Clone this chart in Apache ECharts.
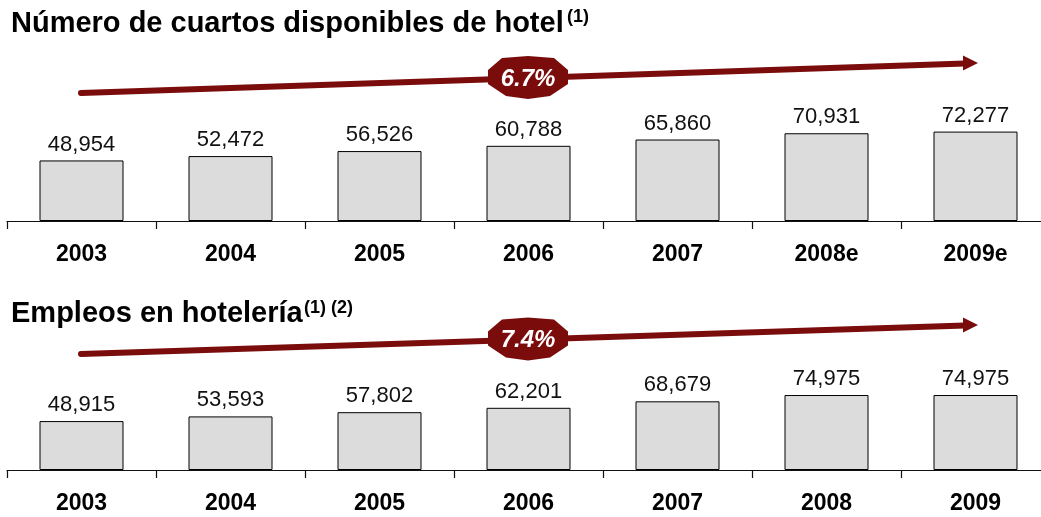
<!DOCTYPE html>
<html>
<head>
<meta charset="utf-8">
<script src="https://cdn.jsdelivr.net/npm/echarts@6/dist/echarts.min.js"></script>
<style>
  html, body { margin: 0; padding: 0; background: #fff; }
  #chart { width: 1041px; height: 517px; }
</style>
</head>
<body>
<div id="chart"></div>
<script>
// datos
const roomYears = ['2003', '2004', '2005', '2006', '2007', '2008e', '2009e'];
const roomValues = [48954, 52472, 56526, 60788, 65860, 70931, 72277];
const jobYears = ['2003', '2004', '2005', '2006', '2007', '2008', '2009'];
const jobValues = [48915, 53593, 57802, 62201, 68679, 74975, 74975];

const FONT = '"Liberation Sans", Arial, sans-serif';
const RED = '#7a0c0c';

// tasa de crecimiento anual compuesta
function cagr(values) {
    let n = values.length - 1;
    let r = Math.pow(values[n] / values[0], 1 / n) - 1;
    return (r * 100).toFixed(1) + '%';
}

function fmt(v) {
    return v.toLocaleString('en-US');
}

function xAxisFor(idx, years) {
    return {
        type: 'category',
        gridIndex: idx,
        data: years,
        boundaryGap: true,
        axisLine: { lineStyle: { color: '#111', width: 1.2 } },
        axisTick: { show: true, length: 8, lineStyle: { color: '#111', width: 1.2 } },
        axisLabel: {
            margin: 22,
            fontFamily: FONT,
            fontWeight: 'bold',
            fontSize: 23,
            color: '#000'
        }
    };
}

function yAxisFor(idx, max) {
    return {
        type: 'value',
        gridIndex: idx,
        min: 0,
        max: max,
        show: false,
        splitLine: { show: false }
    };
}

function barSeries(idx, values) {
    return {
        type: 'bar',
        xAxisIndex: idx,
        yAxisIndex: idx,
        data: values,
        barWidth: 84,
        itemStyle: { color: '#dcdcdc', borderColor: '#000', borderWidth: 1 },
        label: {
            show: true,
            position: 'top',
            distance: 5,
            fontFamily: FONT,
            fontSize: 22,
            color: '#111',
            formatter: function (p) { return fmt(p.value); }
        },
        emphasis: { disabled: true },
        animation: false
    };
}

// flecha de crecimiento con la etiqueta
function arrow(x1, y1, x2, y2, text) {
    let cx = 528, cy = y1 + (y2 - y1) * (cx - x1) / (x2 - x1);
    return [
        {
            type: 'line',
            shape: { x1: x1, y1: y1, x2: x2 - 13, y2: y2 + 0.5 },
            style: { stroke: RED, lineWidth: 6, lineCap: 'round' }
        },
        {
            type: 'polygon',
            shape: { points: [[x2, y2], [x2 - 15, y2 - 7.5], [x2 - 15, y2 + 7.5]] },
            style: { fill: RED }
        },
        {
            type: 'polygon',
            shape: {
                points: [
                    [cx - 40, cy - 8], [cx - 26, cy - 20], [cx, cy - 22], [cx + 26, cy - 20],
                    [cx + 40, cy - 8], [cx + 40, cy + 6], [cx + 22, cy + 18], [cx, cy + 21],
                    [cx - 22, cy + 18], [cx - 40, cy + 6]
                ]
            },
            style: { fill: RED }
        },
        {
            type: 'text',
            style: {
                x: cx, y: cy + 1,
                text: text,
                align: 'center',
                verticalAlign: 'middle',
                fill: '#fff',
                font: 'italic bold 24px ' + FONT
            }
        }
    ];
}

const chart = echarts.init(document.getElementById('chart'));

const option = {
    animation: false,
    grid: [
        { left: 7, right: -9, top: 101, height: 120, outerBoundsMode: 'none' },
        { left: 7, right: -9, top: 370, height: 100, outerBoundsMode: 'none' }
    ],
    xAxis: [xAxisFor(0, roomYears), xAxisFor(1, jobYears)],
    yAxis: [yAxisFor(0, 97000), yAxisFor(1, 100000)],
    series: [barSeries(0, roomValues), barSeries(1, jobValues)],
    graphic: [
        {
            type: 'text',
            style: { x: 11, y: 9, text: 'Número de cuartos disponibles de hotel', font: 'bold 29px ' + FONT, fill: '#000', verticalAlign: 'top' }
        },
        {
            type: 'text',
            style: { x: 567, y: 8, text: '(1)', font: 'bold 18px ' + FONT, fill: '#000', verticalAlign: 'top' }
        },
        {
            type: 'text',
            style: { x: 11, y: 299, text: 'Empleos en hotelería', font: 'bold 29px ' + FONT, fill: '#000', verticalAlign: 'top' }
        },
        {
            type: 'text',
            style: { x: 304, y: 299, text: '(1) (2)', font: 'bold 18px ' + FONT, fill: '#000', verticalAlign: 'top' }
        }
    ].concat(arrow(81, 93, 978, 63, cagr(roomValues)))
     .concat(arrow(81, 354, 978, 325, cagr(jobValues)))
};

chart.setOption(option);

window.addEventListener('resize', function () {
    chart.resize();
});
</script>
</body>
</html>
